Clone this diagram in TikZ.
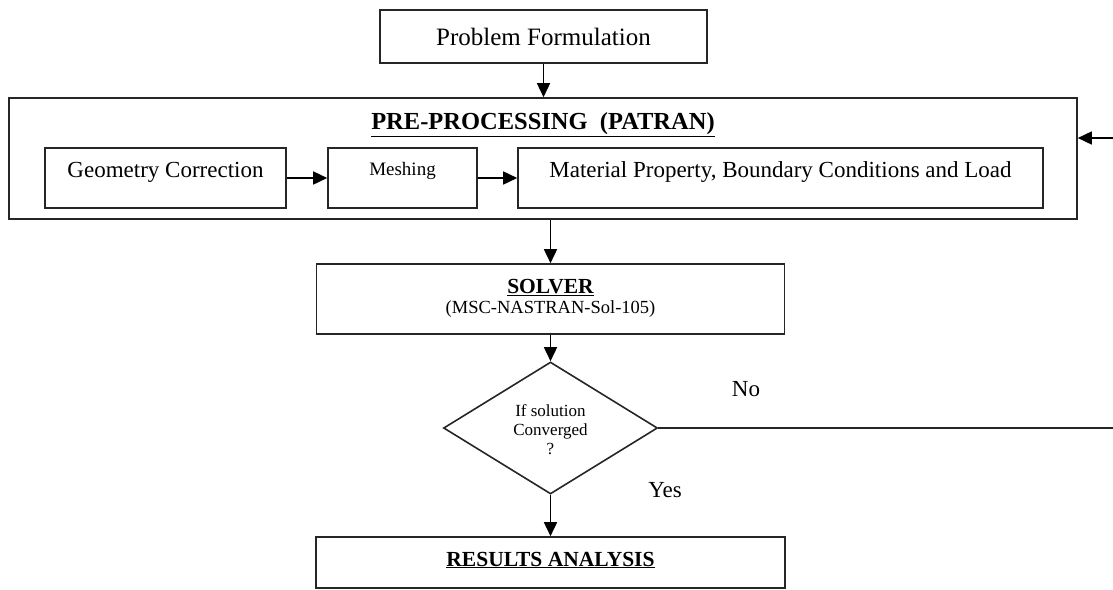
\documentclass[tikz,border=0pt]{standalone}
\usepackage{fontspec}
\setmainfont{Liberation Serif}
\usetikzlibrary{arrows.meta,shapes.geometric}
\tikzset{
  frame/.style={draw=black!85,line width=1.6pt,rectangle,inner sep=0pt},
  arr/.style={draw=black,line width=1.6pt,-{Triangle[length=14pt,width=13pt]}},
  plain/.style={draw=black!85,line width=1.6pt},
  lbl/.style={inner sep=0pt,text=black},
  big/.style={font=\fontsize{25}{27}\selectfont},
  mid/.style={font=\fontsize{23}{25}\selectfont},
  small/.style={font=\fontsize{19}{21}\selectfont},
  bhead/.style={font=\fontsize{21.5}{23}\selectfont\bfseries},
}
\begin{document}
\begin{tikzpicture}[x=1pt,y=-1pt]
\useasboundingbox (0,0) rectangle (1113,589);
\clip (0,0) rectangle (1113,589);

% boxes
\node[frame,minimum width=327pt,minimum height=53pt] (prob) at (543.5,36.5) {};
\node[lbl,big] (probt) at (543.5,37) {Problem Formulation};

\node[frame,minimum width=1068pt,minimum height=121pt] (outer) at (543,158.5) {};
\node[lbl,font=\fontsize{24.5}{26}\selectfont\bfseries] (title) at (543,125) {\underline{PRE-PROCESSING\ \ (PATRAN)}};

\node[frame,minimum width=241pt,minimum height=60pt] (geo) at (165.5,178) {};
\node[lbl,mid] (geot) at (165.5,172) {Geometry Correction};

\node[frame,minimum width=149pt,minimum height=60pt] (mesh) at (402.5,178) {};
\node[lbl,small] (mesht) at (402.5,171) {Meshing};

\node[frame,minimum width=525pt,minimum height=60pt] (mat) at (780.5,178) {};
\node[lbl,mid] (matt) at (780.5,172) {Material Property, Boundary Conditions and Load};

\node[frame,minimum width=468pt,minimum height=70pt] (solver) at (550.5,299) {};
\node[lbl,bhead] (solvert) at (550.5,288) {\underline{SOLVER}};
\node[lbl,font=\fontsize{18.5}{20}\selectfont] (solvers) at (550.5,309) {(MSC-NASTRAN-Sol-105)};

\node[draw=black!85,line width=1.6pt,diamond,inner sep=0pt,minimum width=214pt,minimum height=132pt] (dia) at (550.5,428) {};
\node[lbl,align=center,font=\fontsize{17}{19}\selectfont] (diat) at (550.5,430) {If solution\\Converged\\?};

\node[frame,minimum width=469pt,minimum height=51pt] (res) at (550.5,562.5) {};
\node[lbl,bhead] (rest) at (550.5,560) {\underline{RESULTS ANALYSIS}};

\node[lbl,mid] (no) at (746,389) {No};
\node[lbl,mid] (yes) at (665,490) {Yes};

% connectors
\draw[arr] (prob.south) -- (prob.south |- outer.north);
\draw[arr] (geo.east) -- (mesh.west);
\draw[arr] (mesh.east) -- (mat.west);
\draw[arr] (solver.north |- outer.south) -- (solver.north);
\draw[arr] (solver.south) -- (dia.north);
\draw[arr] (dia.south) -- (res.north);
\coordinate (fbA) at (1117,428);
\coordinate (fbB) at (1117,138);
\draw[plain] (dia.east) -- (fbA) -- (fbB);
\draw[arr] (fbB) -- (outer.east |- fbB);
\end{tikzpicture}
\end{document}
